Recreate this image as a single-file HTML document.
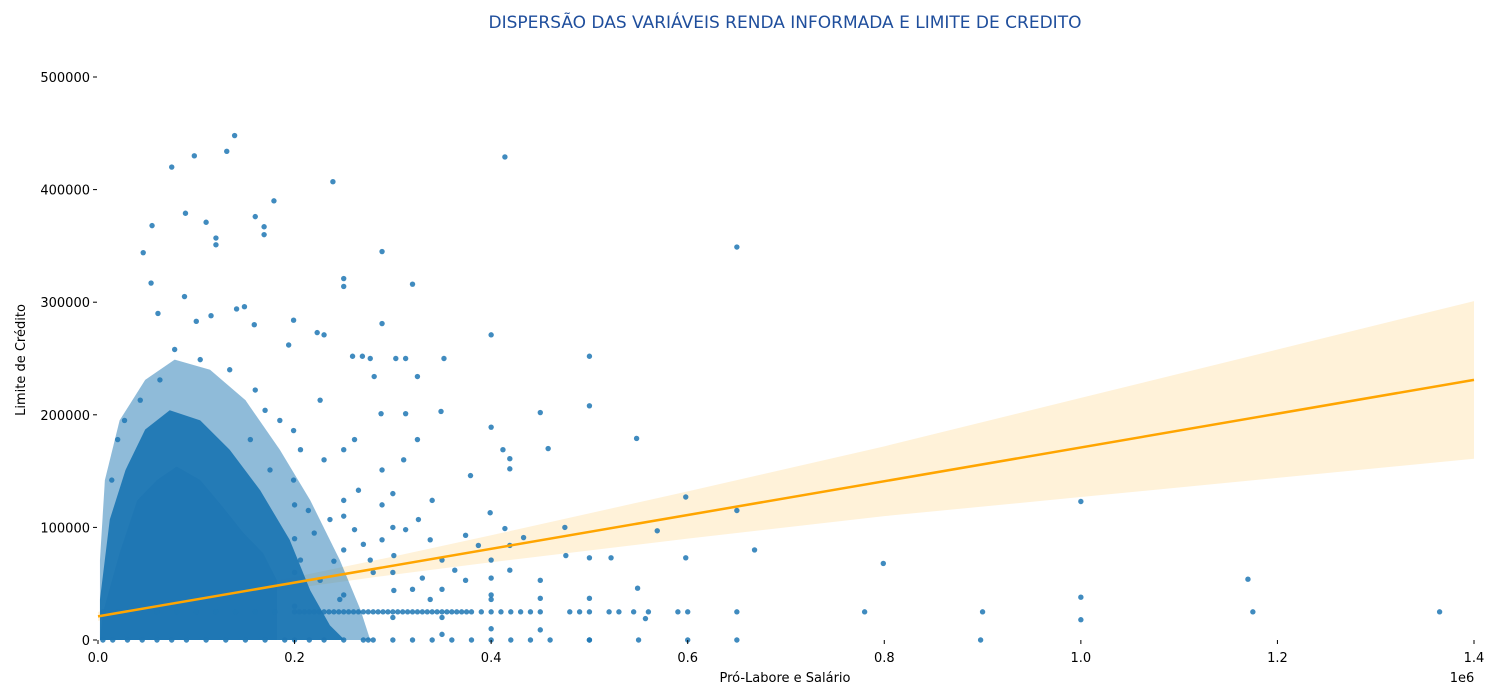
<!DOCTYPE html>
<html><head><meta charset="utf-8">
<style>
html,body{margin:0;padding:0;background:#fff;}
svg{display:block;font-family:"DejaVu Sans","Liberation Sans",sans-serif;}
</style></head>
<body>
<svg id="chart" width="1500" height="700" viewBox="0 0 1500 700">
<text x="785" y="28" text-anchor="middle" font-size="17" fill="#1f4e9c">DISPERSÃO DAS VARIÁVEIS RENDA INFORMADA E LIMITE DE CREDITO</text>
<g id="plot"></g>
<g id="axes"></g>
<text x="785" y="682" text-anchor="middle" font-size="13" fill="#000">Pró-Labore e Salário</text>
<text x="1462" y="682" text-anchor="middle" font-size="13" fill="#000">1e6</text>
<text x="25" y="360" text-anchor="middle" font-size="13" fill="#000" transform="rotate(-90 25 360)">Limite de Crédito</text>
</svg>
<script>
// values in thousands (x: income, y: credit limit)
const xTicks = [0, 0.2, 0.4, 0.6, 0.8, 1.0, 1.2, 1.4];
const xTickLabels = ["0.0","0.2","0.4","0.6","0.8","1.0","1.2","1.4"];
const yTicks = [0, 100000, 200000, 300000, 400000, 500000];
const coreX = [2,5,22,40,60,80,104,127,148,168,182,182];
const coreY = [0,24,77,124,142,154,142,118,95,77,53,0];
const haloX = [2,2,12,28,48,73,104,134,165,195,216,236,251];
const haloY = [0,36,107,151,187,204,195,169,133,89,44,13,0];
const outerX = [2,2,7,22,48,78,114,150,185,216,246,267,277];
const outerY = [0,71,142,195,231,249,240,213,169,124,71,27,0];
const ptX = [139,131,98,75,239,414,179,89,110,55,160,169,169,120,120,46,289,650,250,250,320,54,88,149,141,289,199,400,223,230,61,100,115,269,259,277,303,313,352,500,194,159,281,325,500,450,349,288,313,548,400,412,458,419,419,379,598,399,650,1000,569,475,414,433,668,799,1170,522,598,500,476,1000,1000,500,549,450,898,500,557,289,301,313,326,338,350,363,374,387,301,338,374,419,419,400,400,450,450,340,289,250,250,199,199,230,265,311,289,261,325,226,185,160,134,104,78,63,43,27,20,14,170,206,175,155,214,236,261,277,206,226,246,200,200,200,200,250,250,250,300,300,300,300,400,400,400,350,350,350,220,240,270,280,320,330];
const ptY = [448,434,430,420,407,429,390,379,371,368,376,367,360,357,351,344,345,349,321,314,316,317,305,296,294,281,284,271,273,271,290,283,288,252,252,250,250,250,250,252,262,280,234,234,208,202,203,201,201,179,189,169,170,161,152,146,127,113,115,123,97,100,99,91,80,68,54,73,73,73,75,38,18,37,46,37,0,0,19,89,75,98,107,89,71,62,93,84,44,36,53,84,62,71,36,53,9,124,151,169,124,186,142,160,133,160,120,178,178,213,195,222,240,249,258,231,213,195,178,142,204,169,151,178,115,107,98,71,71,53,36,120,90,60,30,110,80,40,130,100,60,20,55,40,10,45,20,5,95,70,85,60,45,55];
const bandX = [5,20,40,60,80,100,120,140,160,180,200,205,210,215,220,225,230,235,240,245,250,255,260,265,270,275,280,285,290,295,300,305,310,315,320,325,330,335,340,345,350,355,360,365,370,375,380,390,400,410,420,430,440,450,480,490,500,520,530,545,560,590,600,650,780,900,1175,1365];
const zeroX = [5,15,30,45,60,75,90,110,130,150,170,190,200,215,230,250,270,275,280,300,320,340,360,380,400,420,440,460,500,550,600,650];
const regX = [0, 1.4];
const regY = [21, 231];
const ciX = [0,0.1,0.2,0.3,0.4,0.6,0.8,1.0,1.2,1.4];
const ciHalf = [4,3,5,8,12,21,31,44,57,70];

const NS = "http://www.w3.org/2000/svg";
const X0 = 98, X1 = 1474, Y0 = 640, Y1 = 77;
const sx = v => X0 + v / 1.4 * (X1 - X0);         // v in 1e6 units
const sy = v => Y0 - v / 500 * (Y0 - Y1);          // v in thousands
const plot = document.getElementById('plot');
const axes = document.getElementById('axes');
function mk(tag, attrs, parent){const e=document.createElementNS(NS,tag);for(const k in attrs)e.setAttribute(k,attrs[k]);parent.appendChild(e);return e;}

// CI band
let up = ciX.map((x,i)=>sx(x)+','+sy(regY[0]+(regY[1]-regY[0])*x/1.4+ciHalf[i]));
let lo = ciX.map((x,i)=>sx(x)+','+sy(regY[0]+(regY[1]-regY[0])*x/1.4-ciHalf[i])).reverse();
const band = mk('polygon',{points:up.concat(lo).join(' '),fill:'#ffa500','fill-opacity':0.15},plot);



// density layers
const outer = mk('polygon',{points:outerX.map((x,i)=>sx(x/1000)+','+sy(outerY[i])).join(' '),fill:'#1f77b4','fill-opacity':0.5},plot);


const halo = mk('polygon',{points:haloX.map((x,i)=>sx(x/1000)+','+sy(haloY[i])).join(' '),fill:'#1f77b4','fill-opacity':0.95},plot);


const core = mk('polygon',{points:coreX.map((x,i)=>sx(x/1000)+','+sy(coreY[i])).join(' '),fill:'#1f77b4'},plot);



function dot(x,y){const c=mk('circle',{cx:sx(x/1000),cy:sy(y),r:2.7,fill:'#1f77b4','fill-opacity':0.85},plot);

}
ptX.forEach((x,i)=>dot(x,ptY[i]));
bandX.forEach(x=>dot(x,25));
zeroX.forEach(x=>dot(x,0));

// regression line
const line = mk('line',{x1:sx(regX[0]),y1:sy(regY[0]),x2:sx(regX[1]),y2:sy(regY[1]),stroke:'#ffa500','stroke-width':2.5},plot);



// axes ticks
xTicks.forEach((t,i)=>{
  const tk = mk('line',{x1:sx(t),x2:sx(t),y1:Y0,y2:Y0+4,stroke:'#000','stroke-width':1},axes);
  
  
  const tx = mk('text',{x:sx(t),y:Y0+22,'text-anchor':'middle','font-size':13},axes);
  tx.textContent = xTickLabels[i];
  
  
});
yTicks.forEach(t=>{
  const y = sy(t/1000);
  const tk = mk('line',{x1:X0-5,x2:X0-1,y1:y,y2:y,stroke:'#000','stroke-width':1},axes);
  
  
  const tx = mk('text',{x:X0-8,y:y+5,'text-anchor':'end','font-size':13},axes);
  tx.textContent = String(t);
  
  
});
</script>
</body></html>
